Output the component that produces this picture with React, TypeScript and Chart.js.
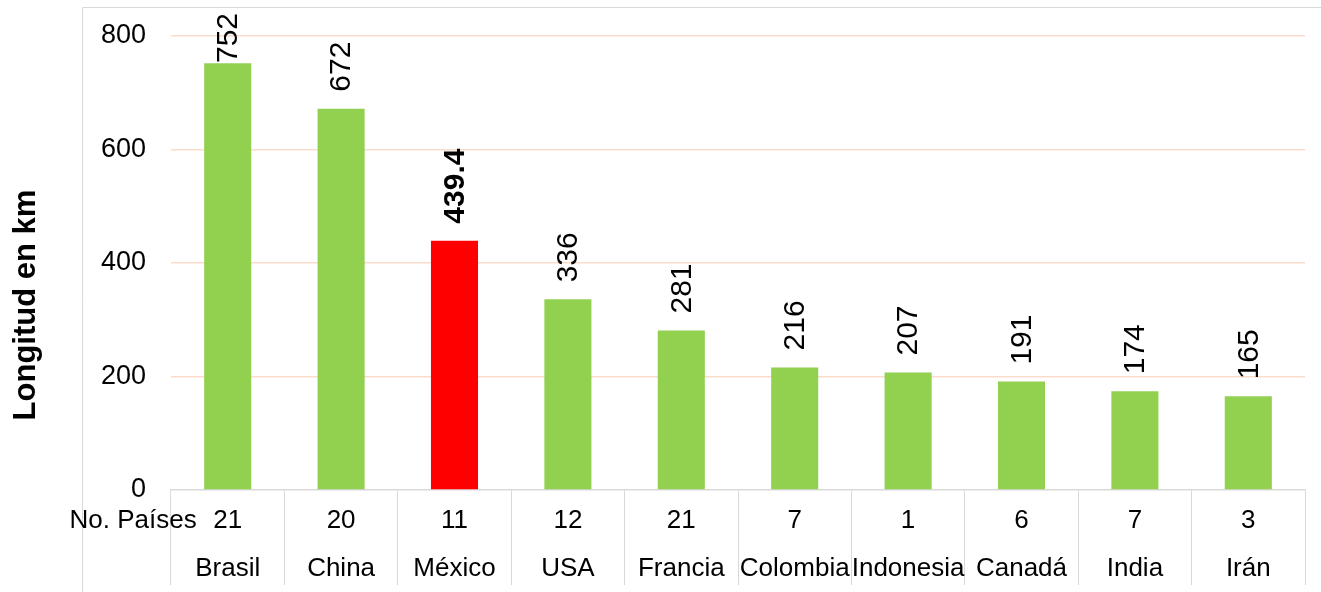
import { useEffect, useRef } from 'react';
import { Chart, registerables } from 'chart.js';

Chart.register(...registerables);

// Countries, track length in km, and number of countries in each row
const paises = ['Brasil', 'China', 'México', 'USA', 'Francia', 'Colombia', 'Indonesia', 'Canadá', 'India', 'Irán'];
const longitudKm = [752, 672, 439.4, 336, 281, 216, 207, 191, 174, 165];
const numPaises = [21, 20, 11, 12, 21, 7, 1, 6, 7, 3];
const yTicks = [0, 200, 400, 600, 800];
const destacado = 'México';

const FONT = "'Liberation Sans', Arial, Helvetica, sans-serif";
const VERDE = '#92D050';
const ROJO = '#FF0000';
const GRIS = '#D9D9D9';
const REJILLA = '#FADCCB';

const tablaPlugin = {
  id: 'tablaPaises',
  beforeDraw(chart: any) {
    const ctx = chart.ctx;
    ctx.save();
    ctx.strokeStyle = GRIS;
    ctx.lineWidth = 1;
    ctx.beginPath();
    ctx.moveTo(82.5, 592);
    ctx.lineTo(82.5, 7.5);
    ctx.lineTo(chart.width, 7.5);
    ctx.stroke();
    ctx.restore();
  },
  afterDatasetsDraw(chart: any) {
    const ctx = chart.ctx;
    const meta = chart.getDatasetMeta(0);
    ctx.save();
    ctx.fillStyle = '#000';
    ctx.textAlign = 'left';
    ctx.textBaseline = 'middle';
    meta.data.forEach((bar: any, i: number) => {
      const bold = paises[i] === destacado;
      ctx.font = `${bold ? 'bold ' : ''}30px ${FONT}`;
      const txt = String(longitudKm[i]);
      const w = ctx.measureText(txt).width;
      const start = Math.max(bar.y - 17, 13 + w);
      ctx.save();
      ctx.translate(bar.x, start);
      ctx.rotate(-Math.PI / 2);
      ctx.fillText(txt, 0, 1);
      ctx.restore();
    });
    ctx.restore();
  },
  afterDraw(chart: any) {
    const ctx = chart.ctx;
    const xs = chart.scales.x;
    const area = chart.chartArea;
    ctx.save();
    ctx.fillStyle = '#000';
    ctx.font = `26px ${FONT}`;
    ctx.textBaseline = 'middle';
    ctx.textAlign = 'center';
    paises.forEach((p, i) => {
      const cx = xs.getPixelForValue(i);
      ctx.fillText(String(numPaises[i]), cx, area.bottom + 31);
      ctx.fillText(p, cx, area.bottom + 79);
    });
    ctx.textAlign = 'right';
    ctx.fillText('No. Países', xs.getPixelForValue(0) - 31, area.bottom + 31);

    ctx.translate(26, 305);
    ctx.rotate(-Math.PI / 2);
    ctx.textAlign = 'center';
    ctx.font = `bold 31px ${FONT}`;
    ctx.fillText('Longitud en km', 0, 0);
    ctx.restore();
  },
};

export default function App() {
  const ref = useRef<HTMLCanvasElement | null>(null);

  useEffect(() => {
    document.body.style.margin = '0';
    const canvas = ref.current;
    if (!canvas) return;
    const chart = new Chart(canvas, {
      type: 'bar',
      data: {
        labels: paises,
        datasets: [
          {
            data: longitudKm,
            backgroundColor: paises.map((p) => (p === destacado ? ROJO : VERDE)),
            borderWidth: 0,
            categoryPercentage: 1,
            barPercentage: 0.415,
          },
        ],
      },
      options: {
        responsive: false,
        animation: false,
        devicePixelRatio: 1,
        layout: { padding: { top: 36, right: 16, bottom: 0, left: 0 } },
        plugins: {
          legend: { display: false },
          tooltip: { enabled: false },
          title: { display: false },
        },
        scales: {
          x: {
            offset: true,
            afterFit: (s: any) => {
              s.height = 102;
            },
            ticks: { display: false },
            grid: {
              offset: true,
              drawOnChartArea: false,
              drawTicks: true,
              tickLength: 95,
              color: GRIS,
              lineWidth: 1,
            },
            border: { display: true, color: GRIS, width: 1.5 },
          },
          y: {
            min: 0,
            max: 800,
            afterFit: (s: any) => {
              s.width = 171;
              s.paddingTop = 0;
              s.paddingBottom = 0;
            },
            afterBuildTicks: (s: any) => {
              s.ticks = yTicks.map((v) => ({ value: v }));
            },
            ticks: {
              color: '#000',
              padding: 25,
              font: { family: FONT, size: 27 },
              callback: (v: any) => String(v),
            },
            grid: {
              drawTicks: false,
              color: (c: any) => (c.tick && c.tick.value === 0 ? 'rgba(0,0,0,0)' : REJILLA),
              lineWidth: 1.5,
            },
            border: { display: false },
          },
        },
      },
      plugins: [
        tablaPlugin,
        {
          id: 'areaFija',
          afterLayout(chart: any) {
            // pin the plot area so the 800 line sits at y = 36
            const area = chart.chartArea;
            const y = chart.scales.y;
            const top = 36;
            area.top = top;
            area.height = area.bottom - top;
            y.top = top;
            y.height = area.bottom - top;
            y.configure();
          },
        },
      ],
    });
    return () => chart.destroy();
  }, []);

  return (
    <div style={{ position: 'fixed', left: 0, top: 0, width: 1321, height: 592, background: '#fff' }}>
      <canvas ref={ref} width={1321} height={592} style={{ display: 'block' }} />
    </div>
  );
}
